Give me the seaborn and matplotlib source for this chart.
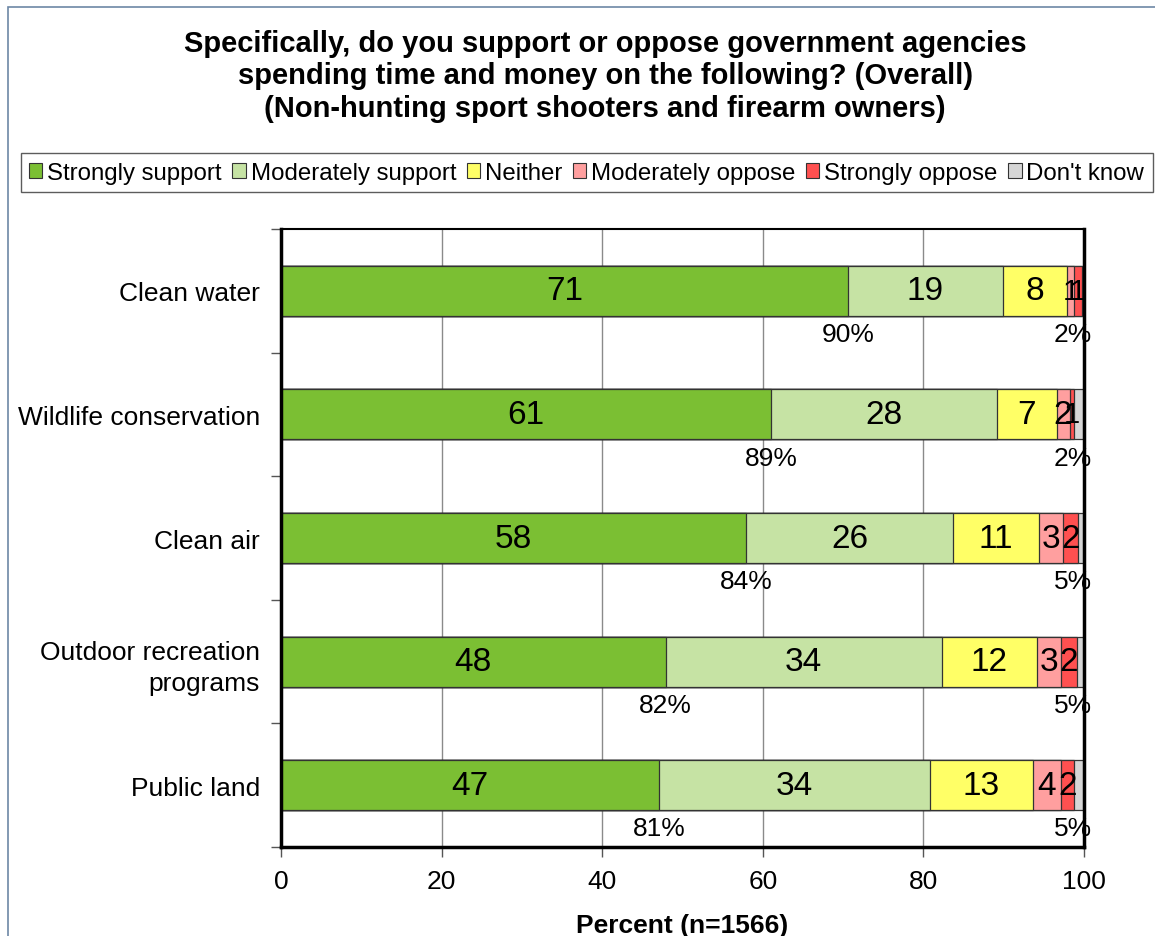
import numpy as np
import pandas as pd
import matplotlib
matplotlib.use("Agg")
import matplotlib.pyplot as plt
from matplotlib.patches import Rectangle, Patch
import seaborn as sns

# Survey results (percent of respondents)
categories = ["Clean water", "Wildlife conservation", "Clean air",
              "Outdoor recreation\nprograms", "Public land"]
responses = ["Strongly support", "Moderately support", "Neither",
             "Moderately oppose", "Strongly oppose", "Don't know"]
strongly_support = [70.6, 61.0, 57.9, 47.9, 47.1]
moderately_support = [19.3, 28.2, 25.8, 34.4, 33.7]
neither = [8.0, 7.4, 10.7, 11.8, 12.8]
moderately_oppose = [0.9, 1.6, 3.0, 3.1, 3.6]
strongly_oppose = [0.9, 0.6, 1.9, 1.9, 1.6]
dont_know = [0.3, 1.2, 0.7, 0.9, 1.2]

title = ("Specifically, do you support or oppose government agencies\n"
         "spending time and money on the following? (Overall)\n"
         "(Non-hunting sport shooters and firearm owners)")
x_label = "Percent (n=1566)"
x_ticks = [0, 20, 40, 60, 80, 100]

colors = ["#7BBF33", "#C6E3A4", "#FFFF66", "#FF9F9F", "#FF5050", "#D6D6D6"]

sns.set_theme(style="white")
plt.rcParams["font.family"] = ["Liberation Sans", "DejaVu Sans"]
plt.rcParams["text.color"] = "black"
plt.rcParams["axes.labelcolor"] = "black"
plt.rcParams["xtick.color"] = "black"
plt.rcParams["ytick.color"] = "black"

series = [strongly_support, moderately_support, neither,
          moderately_oppose, strongly_oppose, dont_know]
values = np.array(series)            # shape (6 responses, 5 categories)
cum = np.cumsum(values, axis=0)

fig = plt.figure(figsize=(11.55, 9.37), dpi=100)
ax = fig.add_axes([0.2433, 0.0950, 0.6952, 0.6595])

# Stacked bars: draw cumulative totals from the last layer back to the first
for i in range(len(responses) - 1, -1, -1):
    df = pd.DataFrame({"category": categories, "value": cum[i]})
    sns.barplot(data=df, y="category", x="value", orient="h", ax=ax,
                color=colors[i], width=0.405, edgecolor="#333333",
                linewidth=0.9, saturation=1, zorder=3)

ax.set_xlim(0, 100)
ax.set_ylim(4.5, -0.5)

# Gridlines
for xv in x_ticks[1:-1]:
    ax.axvline(xv, color="#8a8a8a", linewidth=1.0, zorder=1)

# Segment value labels
for i in range(len(responses) - 1):
    for j in range(len(categories)):
        v = values[i, j]
        lbl = int(round(v))
        if lbl < 1:
            continue
        mid = cum[i, j] - v / 2
        ax.text(mid, j, f"{lbl}", ha="center", va="center",
                fontsize=24 if v >= 1.5 else 21,
                color="black", zorder=5)

# Net support / oppose labels under each bar
support = values[0] + values[1]
oppose = values[3] + values[4]
for j in range(len(categories)):
    ax.text(values[0, j], j + 0.35, f"{int(round(support[j]))}%",
            ha="center", va="center", fontsize=19, zorder=5)
    ax.text(98.6, j + 0.35, f"{int(round(oppose[j]))}%",
            ha="center", va="center", fontsize=19, zorder=2)

# Axes styling
ax.set_ylabel("")
ax.set_xlabel(x_label, fontsize=19, fontweight="bold", labelpad=14)
ax.set_xticks(x_ticks)
ax.set_xticklabels([str(t) for t in x_ticks], fontsize=19)
ax.tick_params(axis="x", direction="out", length=7, width=1,
               color="#555555", pad=9, bottom=True)
ax.set_yticks(range(len(categories)))
ax.set_yticklabels(categories, fontsize=19, linespacing=1.35)
ax.tick_params(axis="y", which="major", length=0, pad=15)
ax.set_yticks(np.arange(-0.5, len(categories), 1.0), minor=True)
ax.tick_params(axis="y", which="minor", direction="out", length=7,
               width=1, color="#555555", left=True)
for side in ["left", "right", "top", "bottom"]:
    ax.spines[side].set_visible(True)
    ax.spines[side].set_color("black")
    ax.spines[side].set_zorder(6)
ax.spines["left"].set_linewidth(2.5)
ax.spines["bottom"].set_linewidth(2.5)
ax.spines["right"].set_linewidth(2.5)
ax.spines["top"].set_linewidth(1.5)
ax.set_facecolor("white")

# Title
fig.text(0.524, 0.968, title, ha="center", va="top", fontsize=21,
         fontweight="bold", linespacing=1.2)

# Legend
handles = [Patch(facecolor=c, edgecolor="#333333", linewidth=0.8)
           for c in colors]
leg = fig.legend(handles, responses, loc="center", ncol=6,
                 bbox_to_anchor=(0.508, 0.8145), fontsize=17.3,
                 frameon=True, fancybox=False, edgecolor="#333333",
                 handlelength=0.55, handleheight=0.55, handletextpad=0.2,
                 columnspacing=0.45, borderpad=0.35)
leg.get_frame().set_linewidth(1.0)

# Outer chart border
fig.patches.append(Rectangle((8 / 1155, -0.05), 1.1, 1 - 8 / 937 + 0.05,
                             transform=fig.transFigure, fill=False,
                             edgecolor="#6d87a6", linewidth=1.2))

fig.savefig("out.png", dpi=100, facecolor="white")
